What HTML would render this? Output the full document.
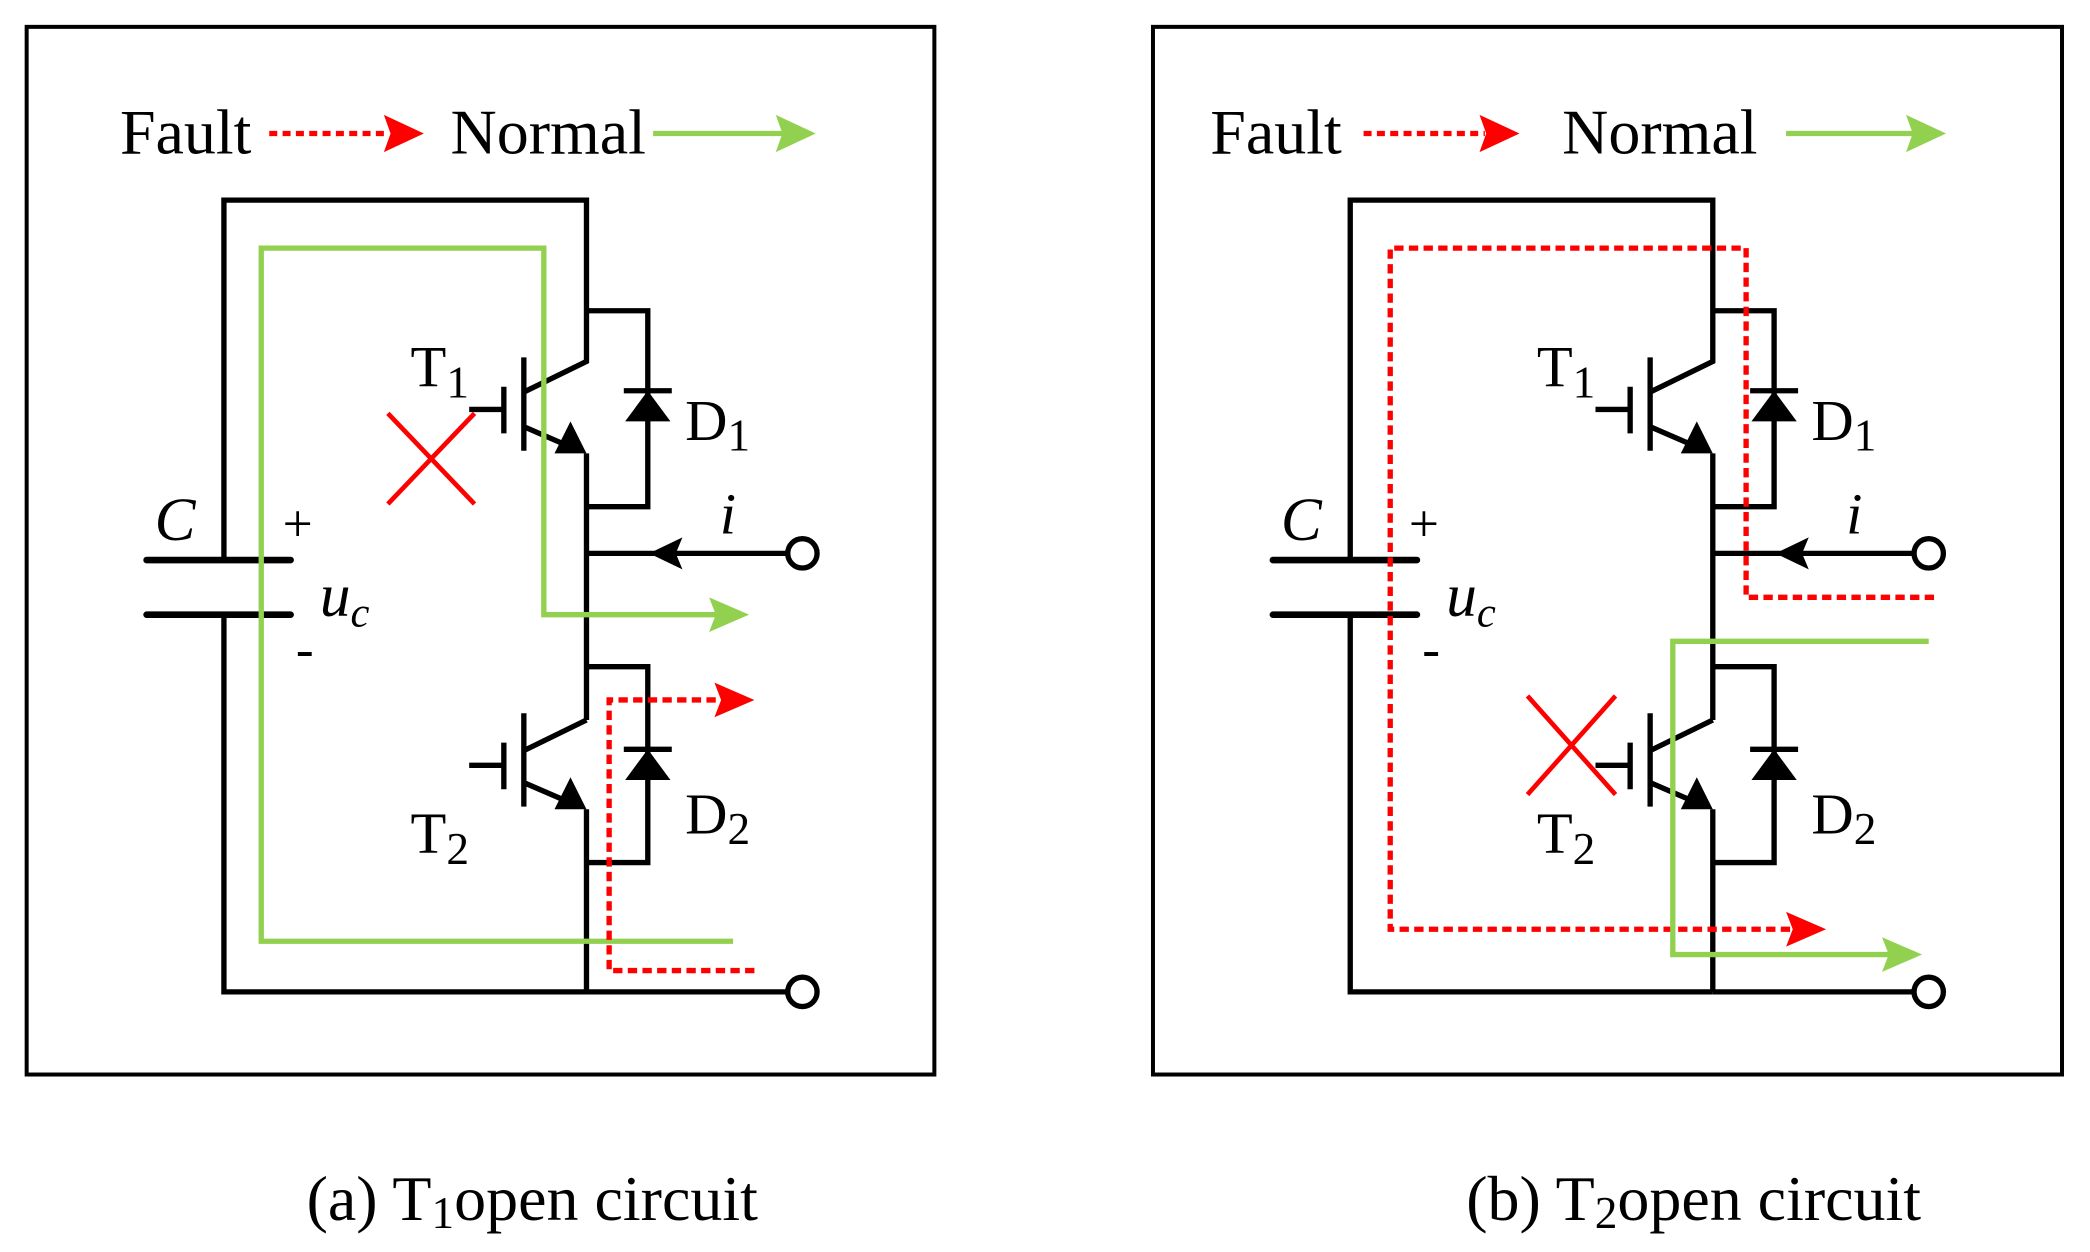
<!DOCTYPE html>
<html><head><meta charset="utf-8"><style>
html,body{margin:0;padding:0;background:#fff;}
svg{display:block;}
text{font-family:"Liberation Serif",serif;fill:#000;}
</style></head><body>
<svg width="2090" height="1252" viewBox="0 0 1568 939" xmlns="http://www.w3.org/2000/svg">
<defs>
<g id="circ" fill="none" stroke="#000" stroke-width="4">
  <polyline points="168,420 168,150 440,150 440,271 393,294"/>
  <polyline points="168,461 168,744 440,744"/>
  <line x1="110" y1="420" x2="218" y2="420" stroke-linecap="round" stroke-width="5"/>
  <line x1="110" y1="461" x2="218" y2="461" stroke-linecap="round" stroke-width="5"/>
  <line x1="352" y1="307" x2="378" y2="307"/>
  <line x1="378" y1="290" x2="378" y2="325"/>
  <line x1="393" y1="268" x2="393" y2="338"/>
  <line x1="393" y1="320" x2="430" y2="336"/>
  <polygon points="440,340 416,340 428,316" fill="#000" stroke="none"/>
  <line x1="440" y1="340" x2="440" y2="540"/>
  <line x1="440" y1="540" x2="393" y2="563"/>
  <line x1="352" y1="574" x2="378" y2="574"/>
  <line x1="378" y1="557" x2="378" y2="592"/>
  <line x1="393" y1="535" x2="393" y2="605"/>
  <line x1="393" y1="587" x2="430" y2="603"/>
  <polygon points="440,607 416,607 428,583" fill="#000" stroke="none"/>
  <line x1="440" y1="607" x2="440" y2="744"/>
  <polyline points="440,233 486,233 486,380 440,380"/>
  <line x1="468" y1="293" x2="504" y2="293"/>
  <polygon points="486,293 469,316 503,316" fill="#000" stroke="none"/>
  <polyline points="440,500 486,500 486,647 440,647"/>
  <line x1="468" y1="562" x2="504" y2="562"/>
  <polygon points="486,562 469,585 503,585" fill="#000" stroke="none"/>
  <line x1="440" y1="415" x2="591" y2="415"/>
  <circle cx="602" cy="415" r="11"/>
  <polygon points="487,415 512,403 507,415 512,427" fill="#000" stroke="none"/>
  <line x1="440" y1="744" x2="591" y2="744"/>
  <circle cx="602" cy="744" r="11"/>
</g>
<g id="labels">
  <text x="308" y="290" font-size="44">T<tspan font-size="34" dy="8">1</tspan></text>
  <text x="514" y="330" font-size="44">D<tspan font-size="34" dy="8">1</tspan></text>
  <text x="308" y="640" font-size="44">T<tspan font-size="34" dy="8">2</tspan></text>
  <text x="514" y="625" font-size="44">D<tspan font-size="34" dy="8">2</tspan></text>
  <text x="116" y="405" font-size="46" font-style="italic">C</text>
  <text x="212" y="406" font-size="40">+</text>
  <text x="222" y="500" font-size="40">-</text>
  <text x="240" y="462" font-size="46" font-style="italic">u<tspan font-size="32" dy="8">c</tspan></text>
  <text x="540" y="400" font-size="44" font-style="italic">i</text>
</g>
</defs>

<rect x="20" y="20" width="681" height="786" fill="none" stroke="#000" stroke-width="3"/>
<text x="90" y="115" font-size="48">Fault</text>
<line x1="202" y1="100" x2="292" y2="100" stroke="#f00" stroke-width="4" stroke-dasharray="6,4"/>
<polygon points="318,100 288,86 293,100 288,114" fill="#f00"/>
<text x="338" y="115" font-size="48">Normal</text>
<line x1="490" y1="100" x2="590" y2="100" stroke="#92d050" stroke-width="4"/>
<polygon points="612,100 582,86 587,100 582,114" fill="#92d050"/>
<use href="#circ"/>
<use href="#labels"/>
<polyline points="550,706 196,706 196,186 408,186 408,461 540,461" fill="none" stroke="#92d050" stroke-width="4"/>
<polygon points="562,461 532,448 537,461 532,474" fill="#92d050"/>
<polyline points="566,728 457,728 457,525 542,525" fill="none" stroke="#f00" stroke-width="4" stroke-dasharray="7,4"/>
<polygon points="566,525 536,512 541,525 536,538" fill="#f00"/>
<g stroke="#f00" stroke-width="3.5"><line x1="291" y1="310" x2="356" y2="378"/><line x1="356" y1="310" x2="291" y2="378"/></g>
<text x="230" y="915" font-size="48">(a) T<tspan font-size="34" dy="6">1</tspan><tspan dy="-6">open circuit</tspan></text>

<rect x="865" y="20" width="682" height="786" fill="none" stroke="#000" stroke-width="3"/>
<text x="908" y="115" font-size="48">Fault</text>
<line x1="1023" y1="100" x2="1114" y2="100" stroke="#f00" stroke-width="4" stroke-dasharray="6,4"/>
<polygon points="1140,100 1110,86 1115,100 1110,114" fill="#f00"/>
<text x="1172" y="115" font-size="48">Normal</text>
<line x1="1340" y1="100" x2="1438" y2="100" stroke="#92d050" stroke-width="4"/>
<polygon points="1460,100 1430,86 1435,100 1430,114" fill="#92d050"/>
<g transform="translate(845,0)"><use href="#circ"/><use href="#labels"/></g>
<polyline points="1451,448 1310,448 1310,186 1043,186 1043,697 1346,697" fill="none" stroke="#f00" stroke-width="4" stroke-dasharray="7,4"/>
<polygon points="1370,697 1340,684 1345,697 1340,710" fill="#f00"/>
<polyline points="1447,481 1255,481 1255,716 1420,716" fill="none" stroke="#92d050" stroke-width="4"/>
<polygon points="1442,716 1412,703 1417,716 1412,729" fill="#92d050"/>
<g stroke="#f00" stroke-width="3.5"><line x1="1146" y1="522" x2="1212" y2="596"/><line x1="1212" y1="522" x2="1146" y2="596"/></g>
<text x="1100" y="915" font-size="48">(b) T<tspan font-size="34" dy="6">2</tspan><tspan dy="-6">open circuit</tspan></text>
</svg>
</body></html>
